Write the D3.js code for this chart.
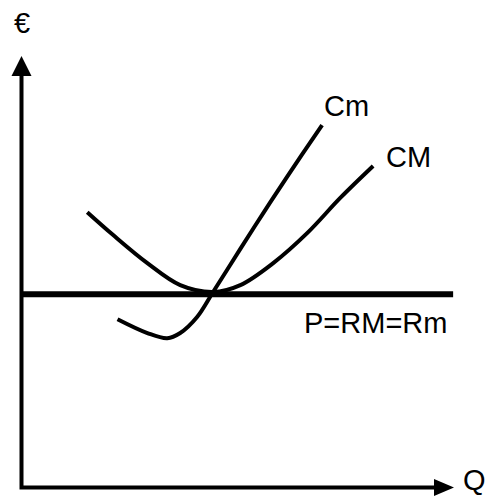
<!DOCTYPE html>
<html>
<head>
<meta charset="utf-8">
<script src="https://cdn.jsdelivr.net/npm/d3@7"></script>
<style>
  body { margin: 0; background: #fff; }
  text { font-family: "Liberation Sans", Arial, sans-serif; font-size: 29px; fill: #000; }
</style>
</head>
<body>
<script>
// quantity (Q) and price (€) in abstract units 0..100
var priceLevel = 44.8;   // P = RM = Rm
var cmeQ = [15.2, 21.2, 29.1, 36.7, 44.3, 50.6, 58.2, 66.1, 73.7, 81.3];   // CM (average cost)
var cmeP = [63.8, 58.5, 52.0, 46.9, 45.3, 46.9, 52.0, 59.0, 67.1, 74.5];
var cmgQ = [22.2, 29.1, 33.7, 36.7, 40.6, 44.3, 50.6, 55.9, 61.4, 69.5];   // Cm (marginal cost)
var cmgP = [39.0, 35.8, 34.6, 35.8, 39.5, 45.3, 55.3, 63.6, 72.0, 84.0];
var labels = ["Cm", "CM", "P=RM=Rm"];

var width = 490, height = 499;

var x = d3.scaleLinear().domain([0, 100]).range([21.5, 454]);
var y = d3.scaleLinear().domain([0, 100]).range([487.5, 56]);

var svg = d3.select("body").append("svg")
    .attr("width", width)
    .attr("height", height);

var line = d3.line()
    .x(function(d) { return x(d[0]); })
    .y(function(d) { return y(d[1]); })
    .curve(d3.curveCatmullRom.alpha(0.5));

// axes with arrow heads
var arrow = 19;
svg.append("path")
    .attr("d", "M" + x(0) + "," + (y(100) + arrow) + "L" + x(0) + "," + y(0) + "L" + (x(100) - arrow) + "," + y(0))
    .attr("fill", "none")
    .attr("stroke", "#000")
    .attr("stroke-width", 4)
    .attr("stroke-linejoin", "miter");

svg.append("polygon")
    .attr("points", [[x(0), y(100)], [x(0) - 10, y(100) + arrow + 1], [x(0) + 10, y(100) + arrow + 1]].join(" "))
    .attr("fill", "#000");

svg.append("polygon")
    .attr("points", [[x(100), y(0)], [x(100) - arrow - 1, y(0) - 8.5], [x(100) - arrow - 1, y(0) + 8.5]].join(" "))
    .attr("fill", "#000");

// price line
svg.append("line")
    .attr("x1", x(0))
    .attr("x2", x(99.8))
    .attr("y1", y(priceLevel))
    .attr("y2", y(priceLevel))
    .attr("stroke", "#000")
    .attr("stroke-width", 6);

// cost curves
svg.append("path")
    .datum(d3.zip(cmeQ, cmeP))
    .attr("d", line)
    .attr("fill", "none")
    .attr("stroke", "#000")
    .attr("stroke-width", 4);

svg.append("path")
    .datum(d3.zip(cmgQ, cmgP))
    .attr("d", line)
    .attr("fill", "none")
    .attr("stroke", "#000")
    .attr("stroke-width", 4);

// labels
svg.append("text").attr("x", 14).attr("y", 33).text("€");
svg.append("text").attr("x", 463).attr("y", 490).text("Q");
svg.append("text").attr("x", 324).attr("y", 115.5).text(labels[0]);
svg.append("text").attr("x", 386).attr("y", 166.5).text(labels[1]);
svg.append("text").attr("x", 304).attr("y", 333.3).text(labels[2]);
</script>
</body>
</html>
